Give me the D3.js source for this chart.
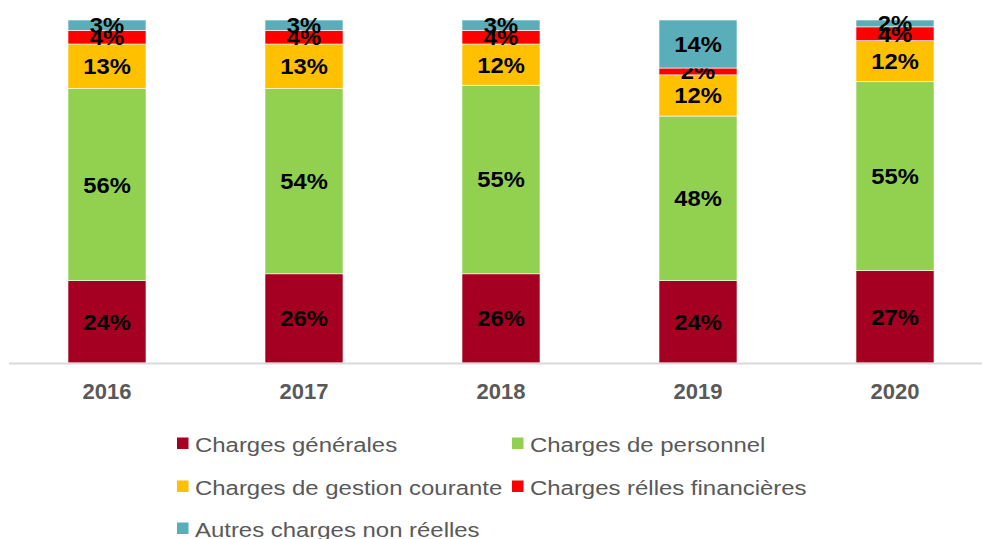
<!DOCTYPE html>
<html>
<head>
<meta charset="utf-8">
<script src="https://cdn.jsdelivr.net/npm/d3@7"></script>
<style>
  body { margin: 0; background: #fff; }
  text { font-family: "Liberation Sans", Arial, sans-serif; }
</style>
</head>
<body>
<div id="chart-root"></div>
<script>
// data (percent of total per year)
var years = ["2016", "2017", "2018", "2019", "2020"];
var seriesNames = ["Charges générales", "Charges de personnel", "Charges de gestion courante",
                   "Charges rélles financières", "Autres charges non réelles"];
var chargesGenerales  = [24, 26, 26, 24, 27];
var chargesPersonnel  = [56, 54, 55, 48, 55];
var chargesGestion    = [13, 13, 12, 12, 12];
var chargesFinancieres = [4, 4, 4, 2, 4];
var autresCharges     = [3, 3, 3, 14, 2];
var colors = ["#A50021", "#92D050", "#FFC000", "#FF0000", "#5AAEB9"];

(function () {
  var width = 982, height = 539;

  var svg = d3.select("#chart-root")
    .append("svg")
      .attr("width", width)
      .attr("height", height);

  // build rows for the stack
  var keys = ["g", "p", "c", "f", "a"];
  var table = years.map(function (y, i) {
    return { year: y, g: chargesGenerales[i], p: chargesPersonnel[i], c: chargesGestion[i],
             f: chargesFinancieres[i], a: autresCharges[i] };
  });
  var stacked = d3.stack().keys(keys)(table);

  var x = d3.scaleBand()
    .domain(years)
    .range([8.5, 993.5])
    .paddingInner(0.604)
    .paddingOuter(0.302);

  var y = d3.scaleLinear()
    .domain([0, 100])
    .range([363, 20]);

  // bars
  var layers = svg.append("g")
    .selectAll("g")
    .data(stacked)
    .enter().append("g")
      .attr("fill", function (d, i) { return colors[i]; });

  layers.selectAll("rect")
    .data(function (d) { return d; })
    .enter().append("rect")
      .attr("x", function (d) { return x(d.data.year); })
      .attr("width", x.bandwidth())
      .attr("y", function (d) { return y(d[1]); })
      .attr("height", function (d) { return y(d[0]) - y(d[1]); })
      .attr("stroke", "#fff")
      .attr("stroke-width", 0.6);

  // value labels (slightly stretched like the source)
  layers.selectAll("text")
    .data(function (d) { return d; })
    .enter().append("text")
      .attr("transform", function (d) {
        var cx = x(d.data.year) + x.bandwidth() / 2,
            cy = (y(d[0]) + y(d[1])) / 2;
        return "translate(" + cx + "," + cy + ") scale(1.08,1)";
      })
      .attr("dy", "0.36em")
      .attr("text-anchor", "middle")
      .attr("fill", "#000")
      .style("font-size", "22px")
      .style("font-weight", "bold")
      .text(function (d) { return (d[1] - d[0]) + "%"; });

  // x axis
  var xAxis = svg.append("g")
    .attr("transform", "translate(0,363)")
    .call(d3.axisBottom(x).tickSize(0).tickPadding(20));
  xAxis.select(".domain")
    .attr("d", "M9,0.5H982")
    .attr("stroke", "#D9D9D9")
    .attr("stroke-width", 2);
  xAxis.selectAll("text")
    .attr("fill", "#595959")
    .attr("dy", "0.71em")
    .style("font-size", "22px")
    .style("font-weight", "bold")
    .style("font-family", "'Liberation Sans', Arial, sans-serif");

  // legend
  var legendPos = [[177, 452], [512, 452], [177, 495], [512, 495], [177, 537]];
  var legend = svg.append("g")
    .selectAll("g")
    .data(seriesNames)
    .enter().append("g")
      .attr("transform", function (d, i) { return "translate(" + legendPos[i][0] + "," + legendPos[i][1] + ")"; });
  legend.append("rect")
    .attr("x", 0)
    .attr("y", -14.5)
    .attr("width", 11.5)
    .attr("height", 11.5)
    .attr("fill", function (d, i) { return colors[i]; });
  legend.append("text")
    .attr("transform", "translate(18,0) scale(1.14,1)")
    .attr("fill", "#595959")
    .style("font-size", "21px")
    .text(function (d) { return d; });
})();
</script>
</body>
</html>
